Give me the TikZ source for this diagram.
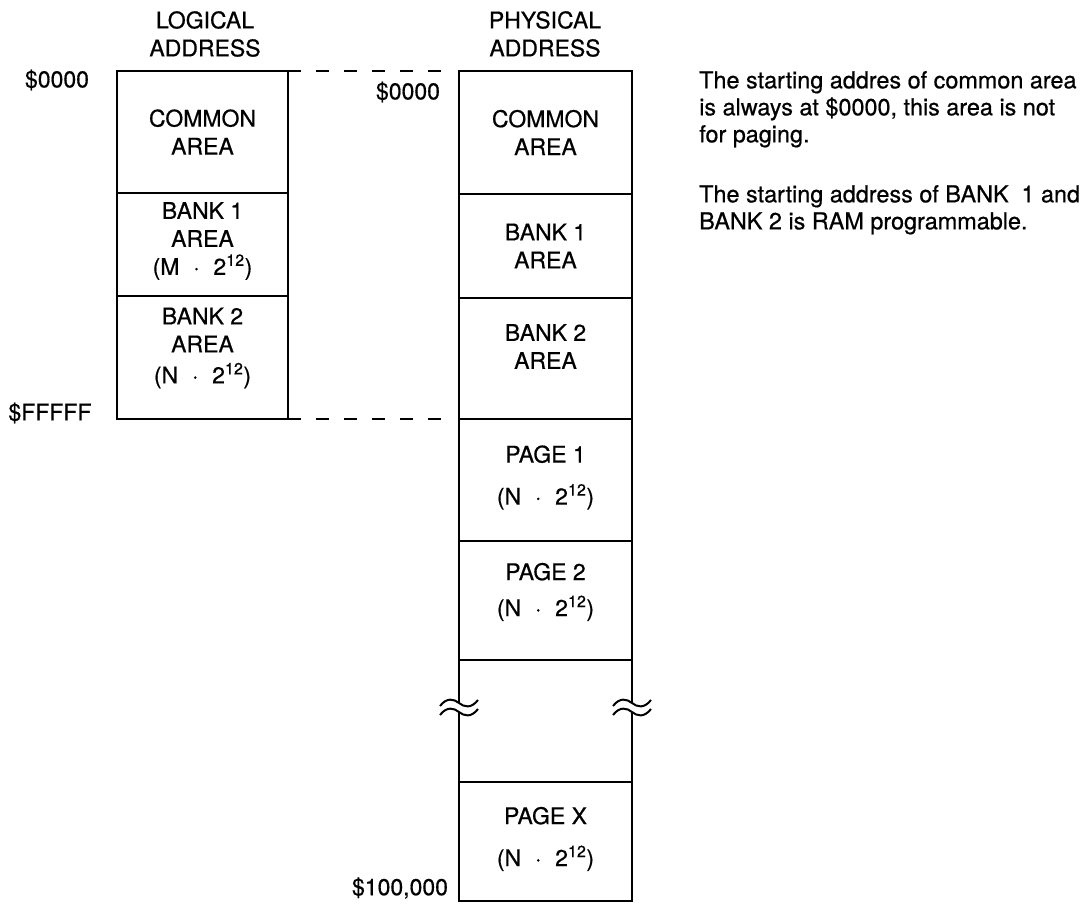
\documentclass[tikz,border=0pt]{standalone}
\usepackage{fontspec}
\setmainfont{TeX Gyre Heros}[FakeBold=0.6]
\newcommand\boxfont{\fontsize{23}{28}\selectfont}
\newcommand\notefont{\fontsize{23.4}{27}\selectfont}
\newcommand\mul[1]{(#1\hspace{0.6em}·\hspace{0.6em}2\textsuperscript{12})}
\begin{document}
\begin{tikzpicture}[x=1pt,y=-1pt,
  cell/.style={draw, line width=2.5pt, anchor=north west, inner sep=0pt, outer sep=0pt, align=center, font=\boxfont},
  lbl/.style={font=\boxfont, inner sep=0pt, align=center},
  note/.style={anchor=north west, align=left, font=\notefont, inner sep=0pt},
  link/.style={line width=2pt, dash pattern=on 13pt off 15pt},
  side/.style={line width=2.5pt},
  brk/.style={line width=2pt},
  wave/.pic={\draw[brk] (-19,3) .. controls (-12,-6) and (-5,-4) .. (0,0) .. controls (5,4) and (12,6) .. (19,-3);}]
\useasboundingbox (0,0) rectangle (1083,903);
% headers
\node[lbl] (hlog) at (205,34) {LOGICAL\\ADDRESS};
\node[lbl] (hphy) at (545,34) {PHYSICAL\\ADDRESS};
% logical column
\node[cell, minimum width=171pt, minimum height=122pt] (lcom) at (117,71) {COMMON\\AREA};
\node[cell, minimum width=171pt, minimum height=103pt, text depth=12pt] (lb1) at (117,193) {BANK 1\\AREA\\\mul{M}};
\node[cell, minimum width=171pt, minimum height=123pt, text depth=24pt] (lb2) at (117,296) {BANK 2\\AREA\\[3pt]\mul{N}};
% physical column
\node[cell, minimum width=173pt, minimum height=123pt] (pcom) at (459,71) {COMMON\\AREA};
\node[cell, minimum width=173pt, minimum height=104pt] (pb1) at (459,194) {BANK 1\\AREA};
\node[cell, minimum width=173pt, minimum height=121pt, text depth=24pt] (pb2) at (459,298) {BANK 2\\AREA};
\node[cell, minimum width=173pt, minimum height=122pt, text depth=10pt] (pp1) at (459,419) {PAGE 1\\[14pt]\mul{N}};
\node[cell, minimum width=173pt, minimum height=119pt, text depth=22pt] (pp2) at (459,541) {PAGE 2\\[8pt]\mul{N}};
\node[anchor=north west, inner sep=0pt, outer sep=0pt, minimum width=173pt, minimum height=122pt] (pgap) at (459,660) {};
\node[cell, minimum width=173pt, minimum height=119pt, text depth=10pt] (ppx) at (459,782) {PAGE X\\[14pt]\mul{N}};
% broken sides of the gap cell
\coordinate (bl1) at (459,703);
\coordinate (bl2) at (459,712);
\coordinate (br1) at (632,703);
\coordinate (br2) at (632,712);
\draw[side] (pgap.north west) -- (bl1);
\draw[side] (bl2) -- (pgap.south west);
\draw[side] (pgap.north east) -- (br1);
\draw[side] (br2) -- (pgap.south east);
\pic at (bl1) {wave};
\pic at (bl2) {wave};
\pic at (br1) {wave};
\pic at (br2) {wave};
% address labels
\node[lbl] (a0) at (57,80) {\$0000};
\node[lbl] (a1) at (408,92) {\$0000};
\node[lbl] (a2) at (50,413) {\$FFFFF};
\node[lbl] (a3) at (400,888) {\$100,000};
% dashed links
\coordinate (ptop) at (442,71);
\coordinate (pbot) at (447,419);
\draw[link] (lcom.north east) -- (ptop);
\draw[link] (lb2.south east) -- (pbot);
% notes
\node[note] (n1) at (699,71)
  {The starting addres of common area\\is always at \$0000, this area is not\\for paging.};
\node[note] (n2) at (699,185)
  {The starting address of BANK\hspace{0.55em}1 and\\BANK 2 is RAM programmable.};
\end{tikzpicture}
\end{document}
